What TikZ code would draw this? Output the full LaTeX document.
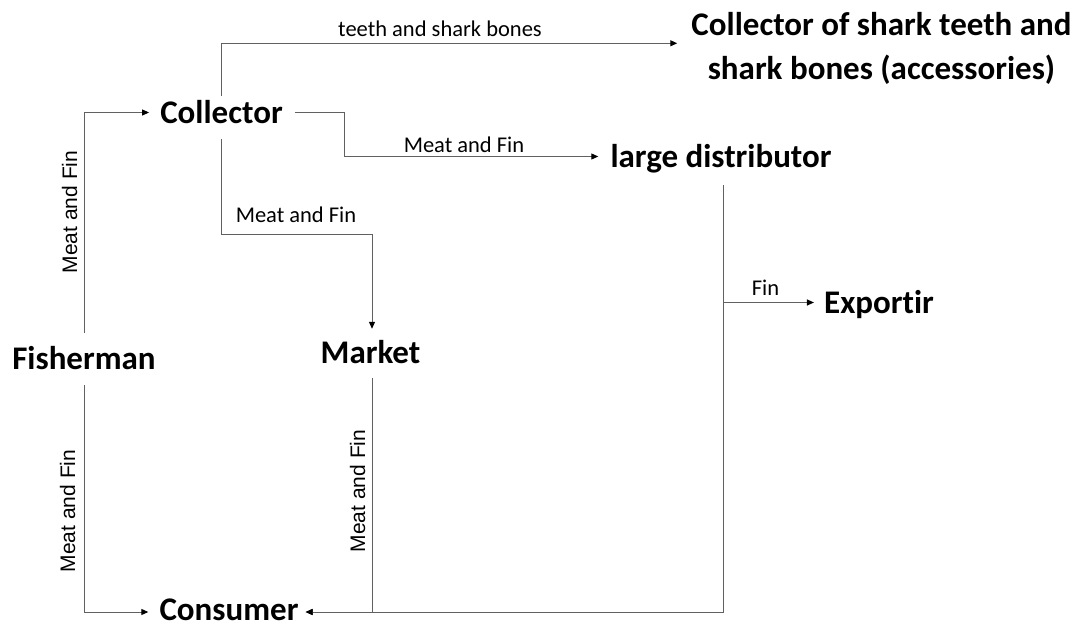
\documentclass[tikz,border=0pt]{standalone}
\usepackage{fontspec}
\setmainfont{Carlito}[Ligatures=CommonOff]
\newfontfamily\arialf{Liberation Sans}
\usetikzlibrary{arrows.meta,calc}
\tikzset{
  big/.style={font=\fontsize{33}{44}\selectfont\bfseries, inner sep=0pt, text height=21pt, text depth=0pt},
  small/.style={font=\fontsize{22.5}{27}\selectfont, inner sep=0pt, anchor=base},
  vlbl/.style={font=\arialf\fontsize{21}{25}\selectfont, inner sep=0pt, anchor=base, rotate=90},
  conn/.style={draw=black!62, line width=1pt, -{Triangle[length=7pt,width=6pt,color=black]}},
}
\begin{document}
\begin{tikzpicture}[x=1pt,y=-1pt]
\useasboundingbox[fill=white] (0,0) rectangle (1085,627);
% nodes
\node[big] (collector) at (221.5,112.5) {Collector};
\node[big] (fisher) at (84,358.5) {Fisherman};
\node[big] (market) at (370.5,352.5) {Market};
\node[big] (consumer) at (229,610) {Consumer};
\node[big] (ld) at (721,156.5) {large distributor};
\node[big] (exportir) at (879,302.5) {Exportir};
\node[font=\fontsize{33}{44}\selectfont\bfseries, inner sep=0pt, align=center, anchor=north] (acc) at (881.5,12) {Collector of shark teeth and\\shark bones (accessories)};
% helper coordinate on the distributor line
\coordinate (ldb) at ([xshift=2pt,yshift=-18pt]ld.south);
% connectors
\draw[conn] ([yshift=15pt]fisher.north) |- ([xshift=-11pt]collector.west);
\draw[conn] ([yshift=-16pt]fisher.south) |- ([xshift=-11pt,yshift=-2pt]consumer.west);
\draw[conn] ([yshift=6pt]collector.north) |- ([xshift=-14pt,yshift=5pt]acc.west);
\draw[conn] ([xshift=12pt]collector.east) -- ++(50,0) |- ([xshift=-12pt]ld.west);
\draw[conn] ([yshift=-16pt]collector.south) -- ++(0,95) -| ([xshift=1.5pt,yshift=13pt]market.north);
\draw[conn] ([xshift=1.5pt,yshift=-15pt]market.south) |- ([xshift=7pt,yshift=-2pt]consumer.east);
\draw[conn] (ldb) |- ([xshift=7pt,yshift=-2pt]consumer.east);
\draw[conn] (ldb |- exportir.west) -- ([xshift=-10pt]exportir.west);
% labels
\node[small] (l1) at (440,36) {teeth and shark bones};
\node[small] (l2) at (464,152) {Meat and Fin};
\node[small] (l3) at (296,222) {Meat and Fin};
\node[small] (l4) at (765.5,295) {Fin};
\node[vlbl] (v1) at (77,212) {Meat and Fin};
\node[vlbl] (v2) at (365,491) {Meat and Fin};
\node[vlbl] (v3) at (75,511) {Meat and Fin};
\end{tikzpicture}
\end{document}
